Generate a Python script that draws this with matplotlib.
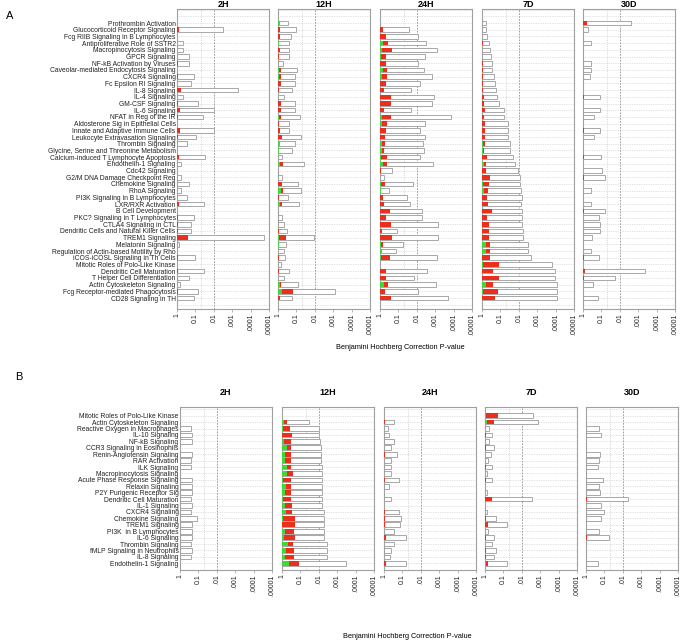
import numpy as np
import matplotlib.pyplot as plt

plt.rcParams['font.family'] = ['Liberation Sans', 'DejaVu Sans']

times = ['2H', '12H', '24H', '7D', '30D']
tick_labels = ['1', '0.1', '.01', '.001', '.0001', '.00001']

# ---- panel A ----
a_labels = ['Prothrombin Activation', 'Glucocorticoid Receptor Signaling',
            'Fcg RIIB Signaling in B Lymphocytes', 'Antiproliferative Role of SSTR2',
            'Macropinocytosis Signaling', 'GPCR Signaling', 'NF-kB Activation by Viruses',
            'Caveolar-mediated Endocytosis Signaling', 'CXCR4 Signaling',
            'Fc Epsilon RI Signaling', 'IL-8 Signaling', 'IL-4 Signaling', 'GM-CSF Signaling',
            'IL-6 Signaling', 'NFAT in Reg of the IR', 'Aldosterone Sig in Epithelial Cells',
            'Innate and Adaptive Immune Cells', 'Leukocyte Extravasation Signaling',
            'Thrombin Signaling', 'Glycine, Serine and Threonine Metabolism',
            'Calcium-induced T Lymphocyte Apoptosis', 'Endothelin-1 Signaling',
            'Cdc42 Signaling', 'G2/M DNA Damage Checkpoint Reg', 'Chemokine Signaling',
            'RhoA Signaling', 'PI3K Signaling in B Lymphocytes', 'LXR/RXR Activation',
            'B Cell Development', 'PKC? Signaling in T Lymphocytes', 'CTLA4 Signaling in CTL',
            'Dendritic Cells and Natural Killer Cells', 'TREM1 Signaling',
            'Melatonin Signaling', 'Regulation of Actin-based Motility by Rho',
            'iCOS-iCOSL Signaling in Th Cells', 'Mitotic Roles of Polo-Like Kinase',
            'Dendritic Cell Maturation', 'T Helper Cell Differentiation',
            'Actin Cytoskeleton Signaling', 'Fcg Receptor-mediated Phagocytosis',
            'CD28 Signaling in TH']

# -log10(p) of each bar, plus length of the green and red parts
a_2h_total = [0, 2.5, 0, .33, .33, .66, .63, 0, .92, .76,
              3.32, .34, 1.12, 2.0, 1.42, 0, 2.0, 1.03, .52, 0,
              1.5, .22, 0, .22, .65, .22, .52, 1.48, 0, .94,
              .77, .77, 4.72, .1, 0, .99, 0, 1.48, .65, .14,
              1.15, .9]
a_2h_green = [0] * 42
a_2h_red = [0, .13, 0, 0, 0, 0, .04, 0, .04, 0,
            .23, 0, .05, .16, .05, 0, .14, .05, 0, 0,
            .1, 0, 0, 0, 0, 0, 0, .1, 0, .05,
            .04, .04, .61, 0, 0, .05, 0, .06, 0, 0,
            .06, 0]

a_12h_total = [.54, .99, .72, .6, .6, .6, .27, 1.03, .92, .92,
               .76, .32, .92, .92, 1.19, .6, .6, 1.24, .92, .76,
               .2, 1.4, 0, .23, 1.08, 1.23, .56, 1.13, 0, .23,
               .32, .47, 1.93, .43, .32, .38, .16, .61, .32, 1.1,
               3.08, .76]
a_12h_green = [.12, 0, 0, .05, 0, 0, 0, .07, .04, 0,
               0, 0, 0, 0, .05, 0, 0, 0, .1, .05,
               0, .1, 0, 0, 0, .14, 0, .1, 0, 0,
               0, 0, .04, .05, 0, 0, 0, 0, 0, .1,
               .2, 0]
a_12h_red = [0, .12, .1, 0, .1, .06, 0, .09, .1, .16,
             .08, 0, .16, .16, .11, .05, .1, .23, 0, 0,
             0, .17, 0, 0, .23, .13, .05, .12, 0, 0,
             0, .05, .41, 0, 0, .05, 0, .06, 0, .06,
             .59, .1]

a_24h_total = [0, 1.59, 2.07, 2.49, 3.1, 2.45, 2.04, 2.4, 2.83, 2.2,
               1.69, 2.94, 2.85, 1.66, 3.86, 2.45, 2.18, 2.45, 2.34, 2.41,
               2.18, 2.88, .63, .2, 1.8, .5, 1.48, 1.62, 2.29, 2.29,
               3.15, .95, 3.15, 1.26, .88, 3.1, 0, 2.56, 1.86, 3.06,
               2.07, 3.69]
a_24h_green = [0, 0, 0, .18, .12, .08, 0, .16, .12, 0,
               0, 0, 0, 0, .09, .09, 0, 0, .12, .1,
               .06, .16, 0, 0, .04, .05, 0, 0, 0, 0,
               0, 0, 0, .05, .09, .05, 0, 0, 0, .22,
               0, 0]
a_24h_red = [0, .14, .32, .27, .51, .24, .32, .24, .28, .34,
             .22, .6, .6, .23, .51, .27, .31, .28, .17, .12,
             .3, .24, .04, 0, .25, 0, .18, .2, .56, .31,
             .61, .11, .63, .13, 0, .49, 0, .32, .32, .21,
             .28, .6]

a_7d_total = [.2, .23, .27, .36, .41, .49, .52, .52, .63, .68,
              .74, .79, .95, 1.2, 1.17, 1.39, 1.39, 1.39, 1.5, 1.53,
              1.66, 1.78, 1.98, 2.04, 2.07, 2.1, 2.16, 2.14, 2.16, 2.16,
              2.16, 2.25, 2.25, 2.52, 2.52, 2.65, 3.78, 3.96, 3.96, 4.05,
              4.09, 4.05]
a_7d_green = [0, 0, 0, 0, 0, 0, 0, 0, 0, 0,
              0, 0, 0, 0, 0, 0, 0, 0, .05, .05,
              0, .1, 0, 0, .07, .09, 0, 0, 0, 0,
              0, 0, 0, .2, .2, 0, .06, 0, 0, .2,
              .06, 0]
a_7d_red = [0, 0, 0, .03, 0, 0, .04, .03, .04, .04,
            .05, .09, .11, .16, .11, .16, .16, .16, .11, .06,
            .25, .12, .22, .41, .29, .23, .29, .31, .52, .27,
            .36, .38, .38, .25, .25, .41, .88, .59, .95, .39,
            .8, .7]

a_30d_total = [2.59, .27, 0, .43, 0, 0, .43, .43, .38, 0,
               0, .92, 0, .92, .59, 0, .92, .58, 0, 0,
               .97, 0, 1.03, 1.19, 0, .43, 0, .43, 1.19, .86,
               .94, .94, .5, 0, .43, .86, 0, 3.37, 1.75, .54,
               0, .83]
a_30d_green = [0] * 42
a_30d_red = [.23, 0, 0, 0, 0, 0, 0, 0, 0, 0,
             0, .03, 0, 0, 0, 0, .03, 0, 0, 0,
             .03, 0, 0, .03, 0, 0, 0, 0, .07, 0,
             0, 0, 0, 0, 0, .03, 0, .11, .07, 0,
             0, 0]

# ---- panel B ----
b_labels = ['Mitotic Roles of Polo-Like Kinase', 'Actin Cytoskeleton Signaling',
            'Reactive Oxygen in Macrophages', 'IL-10 Signaling', 'NF-kB Signaling',
            'CCR3 Signaling in Eosinophils', 'Renin-Angiotensin Signaling', 'RAR Activation',
            'ILK Signaling', 'Macropinocytosis Signaling', 'Acute Phase Response Signaling',
            'Relaxin Signaling', 'P2Y Purigenic Receptor Sig', 'Dendritic Cell Maturation',
            'IL-1 Signaling', 'CXCR4 Signaling', 'Chemokine Signaling', 'TREM1 Signaling',
            'PI3K  in B Lymphocytes', 'IL-6 Signaling', 'Thrombin Signaling',
            'fMLP Signaling in Neutrophils', 'IL-8 Signaling', 'Endothelin-1 Signaling']

b_2h_total = [0, 0, .61, .66, .66, 0, .65, .61, .59, 0, .66, .65,
              .65, .59, .66, .61, .93, .66, .65, .66, .59, .66, .61, 0]
b_2h_green = [0] * 24
b_2h_red = [0] * 24

b_12h_total = [0, 1.45, 1.99, 1.99, 2.04, 2.11, 2.13, 2.13, 2.15, 2.15, 2.15, 2.15,
               2.15, 2.15, 2.2, 2.26, 2.28, 2.28, 2.28, 2.28, 2.42, 2.47, 2.42, 3.49]
b_12h_green = [0, .1, .05, 0, .09, .27, .14, .18, .29, .27, .05, .23,
               .16, .03, .18, .23, .05, 0, .14, .09, .32, .2, .18, .39]
b_12h_red = [0, .16, .36, .56, .39, .23, .36, .3, .21, .34, .45, .24,
             .34, .44, .38, .31, .63, .68, .51, .59, .27, .43, .45, .52]

b_24h_total = [0, .57, .2, .25, .57, .36, .73, .36, .36, .36, .84, .29,
               0, .36, 0, .79, .9, .86, .52, 1.18, .57, .38, .34, 1.18]
b_24h_green = [0] * 24
b_24h_red = [0, .03, 0, 0, 0, 0, .04, 0, 0, 0, .04, 0,
             0, 0, 0, .04, .04, .04, 0, .13, 0, 0, 0, .11]

b_7d_total = [2.6, 2.9, .22, .38, .22, .48, .32, .18, .38, .11, .38, 0,
              .11, 2.58, 0, .11, .59, 1.2, .16, .48, .38, .59, .48, 1.2]
b_7d_green = [.05, .11, 0, 0, 0, 0, 0, 0, 0, 0, 0, 0,
              0, 0, 0, 0, 0, 0, 0, 0, 0, 0, 0, .07]
b_7d_red = [.63, .36, 0, .03, 0, .03, 0, 0, .03, 0, .03, 0,
            0, .39, 0, 0, .07, .18, 0, .04, 0, .04, .04, .1]

b_30d_total = [0, 0, .7, .81, 0, 0, .77, .68, .65, 0, .91, .73,
               .75, 2.28, .81, .97, .81, 0, .72, 1.24, 0, 0, 0, .66]
b_30d_green = [0] * 24
b_30d_red = [0, 0, 0, 0, 0, 0, 0, 0, 0, 0, 0, 0,
             0, .07, 0, 0, 0, 0, 0, .03, 0, 0, 0, 0]

a_totals = [a_2h_total, a_12h_total, a_24h_total, a_7d_total, a_30d_total]
a_greens = [a_2h_green, a_12h_green, a_24h_green, a_7d_green, a_30d_green]
a_reds = [a_2h_red, a_12h_red, a_24h_red, a_7d_red, a_30d_red]
b_totals = [b_2h_total, b_12h_total, b_24h_total, b_7d_total, b_30d_total]
b_greens = [b_2h_green, b_12h_green, b_24h_green, b_7d_green, b_30d_green]
b_reds = [b_2h_red, b_12h_red, b_24h_red, b_7d_red, b_30d_red]

RED = '#EC2F1C'
GREEN = '#3ED83A'
W, H = 686, 642

fig = plt.figure(figsize=(6.86, 6.42), dpi=100)


def draw_panel(labels, totals, greens, reds, lefts, top_px, bot_px,
               pad_top, pad_bot, bar_h, title_pad):
    n = len(labels)
    y = np.arange(n)
    for k, t in enumerate(times):
        ax = fig.add_axes([lefts[k] / W, 1 - bot_px / H, 92 / W, (bot_px - top_px) / H])
        tot = np.array(totals[k])
        g = np.array(greens[k])
        r = np.array(reds[k])
        # grid
        for yy in range(int(np.floor(-pad_top)), n + int(np.ceil(pad_bot))):
            ax.axhline(yy, color='#C8C8C8', lw=0.5, ls=(0, (1, 1.5)), zorder=0)
        ax.axvline(1.301, color='#C8C8C8', lw=0.6, ls=(0, (1, 1.5)), zorder=0)
        ax.axvline(2, color='#909090', lw=0.6, ls=(0, (2, 1.5)), zorder=0)
        m = tot > 0
        ax.barh(y[m], tot[m], height=bar_h, color='white', edgecolor='#A8A8A8',
                linewidth=0.7, zorder=2)
        ax.barh(y, g, height=bar_h, color=GREEN, linewidth=0, zorder=3)
        ax.barh(y, r, left=g, height=bar_h, color=RED, linewidth=0, zorder=3)
        ax.set_xlim(0, 5)
        ax.set_ylim(n - 1 + pad_bot, -pad_top)
        ax.set_xticks(range(6))
        ax.set_xticklabels(tick_labels, rotation=90, fontsize=5, color='#222222')
        ax.tick_params(axis='x', length=2, width=0.5, color='#999999', pad=1)
        if k == 0:
            ax.set_yticks(y)
            ax.set_yticklabels(labels, fontsize=4.9, color='#222222')
            ax.tick_params(axis='y', length=0, pad=1)
        else:
            ax.set_yticks([])
        for s in ax.spines.values():
            s.set_color('#A0A0A0')
            s.set_linewidth(0.8)
        ax.set_title(t, fontsize=6.5, fontweight='bold', pad=title_pad)


draw_panel(a_labels, a_totals, a_greens, a_reds, [177, 278, 380, 482, 583],
           9, 309, 2.09, 1.64, 0.68, 1.5)
draw_panel(b_labels, b_totals, b_greens, b_reds, [180, 282, 384, 485, 586],
           406.7, 570, 1.4, 1.04, 0.72, 8.5)

fig.text(6 / W, 1 - 16 / H, 'A', fontsize=8, va='center', ha='left')
fig.text(15 / W, 1 - 377 / H, 'B', fontsize=8, va='center', ha='left')
fig.text(400 / W, 1 - 348 / H, 'Benjamini Hochberg Correction P-value',
         fontsize=5.3, ha='center', va='center')
fig.text(407 / W, 1 - 636 / H, 'Benjamini Hochberg Correction P-value',
         fontsize=5.3, ha='center', va='center')

fig.savefig('out.png', dpi=100)
